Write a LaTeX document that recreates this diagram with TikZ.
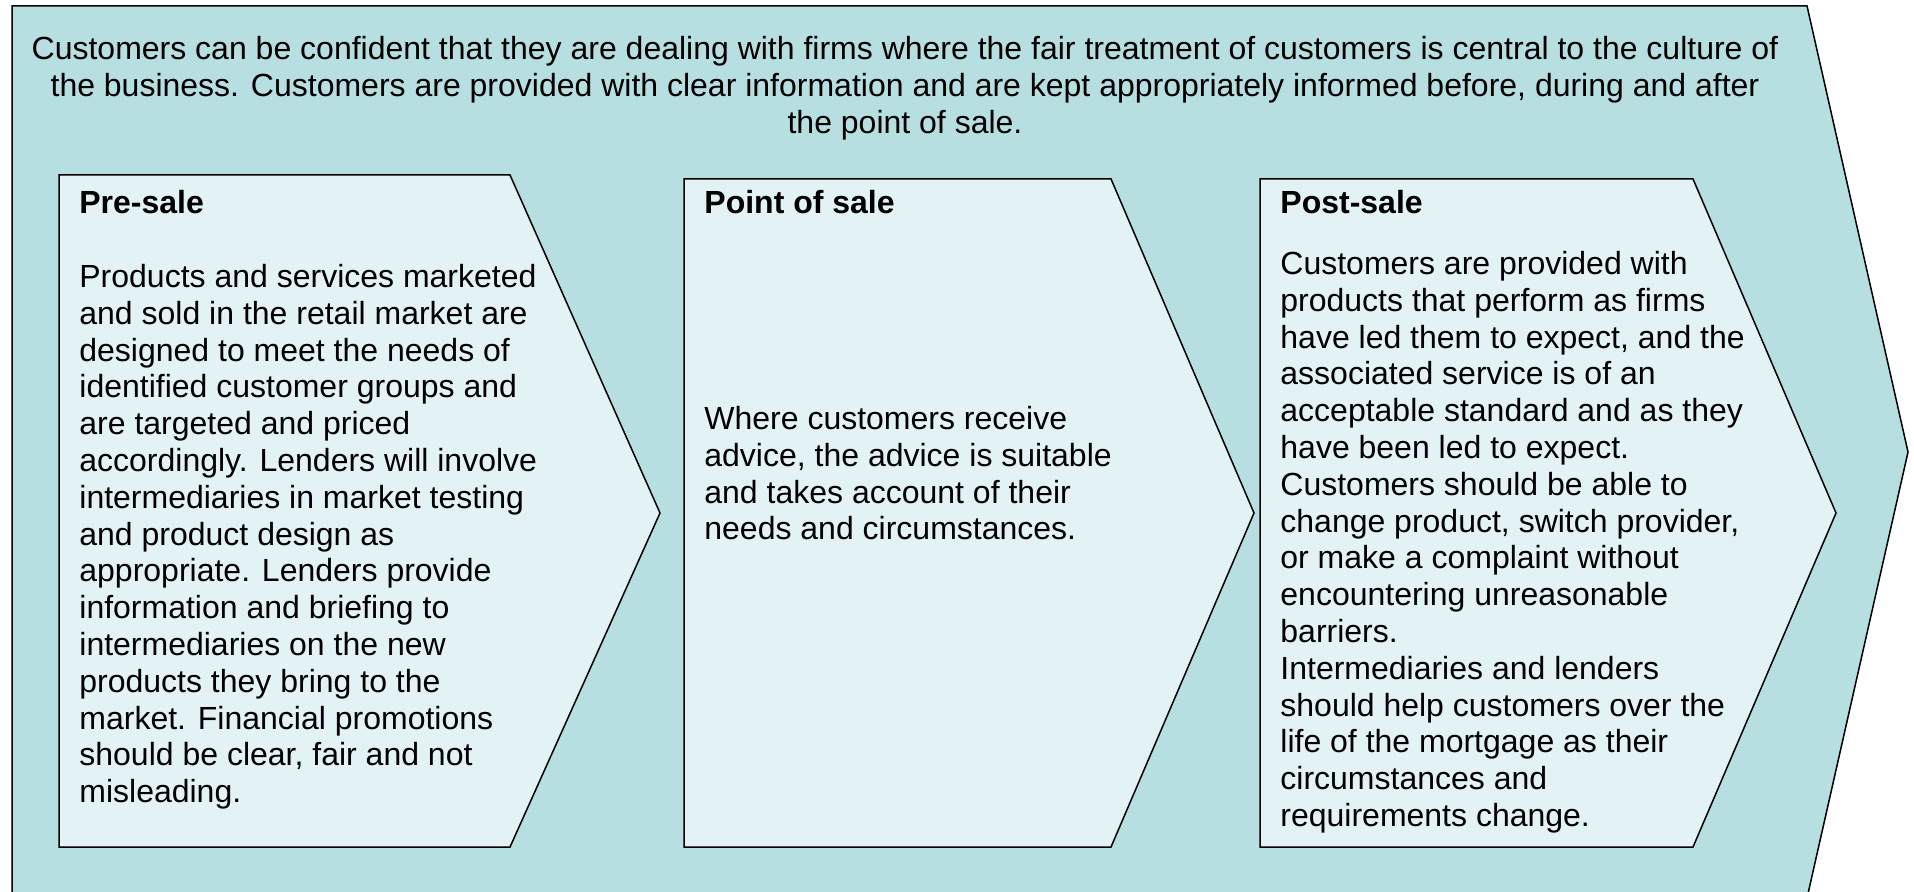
\documentclass[tikz,border=0pt]{standalone}
\usepackage{fontspec}
\setmainfont{Liberation Sans}
\definecolor{outerteal}{RGB}{183,222,225}
\definecolor{innerteal}{RGB}{226,242,245}
\begin{document}
\begin{tikzpicture}[x=0.5pt, y=-0.5pt,
  every node/.style={font=\fontsize{16}{18.4}\selectfont, inner sep=0pt},
  band/.style={draw, line width=0.75pt, fill=outerteal},
  chev/.style={draw, line width=0.75pt, fill=innerteal},
  head/.style={anchor=base west, font=\fontsize{16}{18.4}\selectfont\bfseries},
  body/.style={anchor=north west, align=left}]
\useasboundingbox (0,0) rectangle (1914,892);
\clip (0,0) rectangle (1914,892);
% big arrow behind everything
\draw[band] (12,6) -- (1807,6) -- (1908,452) -- (1807,898) -- (12,898) -- cycle;
\node[anchor=north, align=center] (intro) at (905,36) {Customers can be confident that they are dealing with firms where the fair treatment of customers is central to the culture of\\
  the business. Customers are provided with clear information and are kept appropriately informed before, during and after\\
  the point of sale.};
% three stages
\draw[chev] (59,175) -- (510,175) -- (660,513) -- (510,847) -- (59,847) -- cycle;
\draw[chev] (684,179) -- (1111,179) -- (1254,513) -- (1111,847) -- (684,847) -- cycle;
\draw[chev] (1260,179) -- (1693,179) -- (1836,513) -- (1693,847) -- (1260,847) -- cycle;
% pre-sale
\node[head] (prehead) at (79,214) {Pre-sale};
\node[body] (prebody) at (79,264) {Products and services marketed\\
  and sold in the retail market are\\
  designed to meet the needs of\\
  identified customer groups and\\
  are targeted and priced\\
  accordingly. Lenders will involve\\
  intermediaries in market testing\\
  and product design as\\
  appropriate. Lenders provide\\
  information and briefing to\\
  intermediaries on the new\\
  products they bring to the\\
  market. Financial promotions\\
  should be clear, fair and not\\
  misleading.};
% point of sale
\node[head] (pointhead) at (704,214) {Point of sale};
\node[body] (pointbody) at (704,406) {Where customers receive\\
  advice, the advice is suitable\\
  and takes account of their\\
  needs and circumstances.};
% post-sale
\node[head] (posthead) at (1280,214) {Post-sale};
\node[body] (postbody) at (1280,251) {Customers are provided with\\
  products that perform as firms\\
  have led them to expect, and the\\
  associated service is of an\\
  acceptable standard and as they\\
  have been led to expect.\\
  Customers should be able to\\
  change product, switch provider,\\
  or make a complaint without\\
  encountering unreasonable\\
  barriers.\\
  Intermediaries and lenders\\
  should help customers over the\\
  life of the mortgage as their\\
  circumstances and\\
  requirements change.};
\end{tikzpicture}
\end{document}
